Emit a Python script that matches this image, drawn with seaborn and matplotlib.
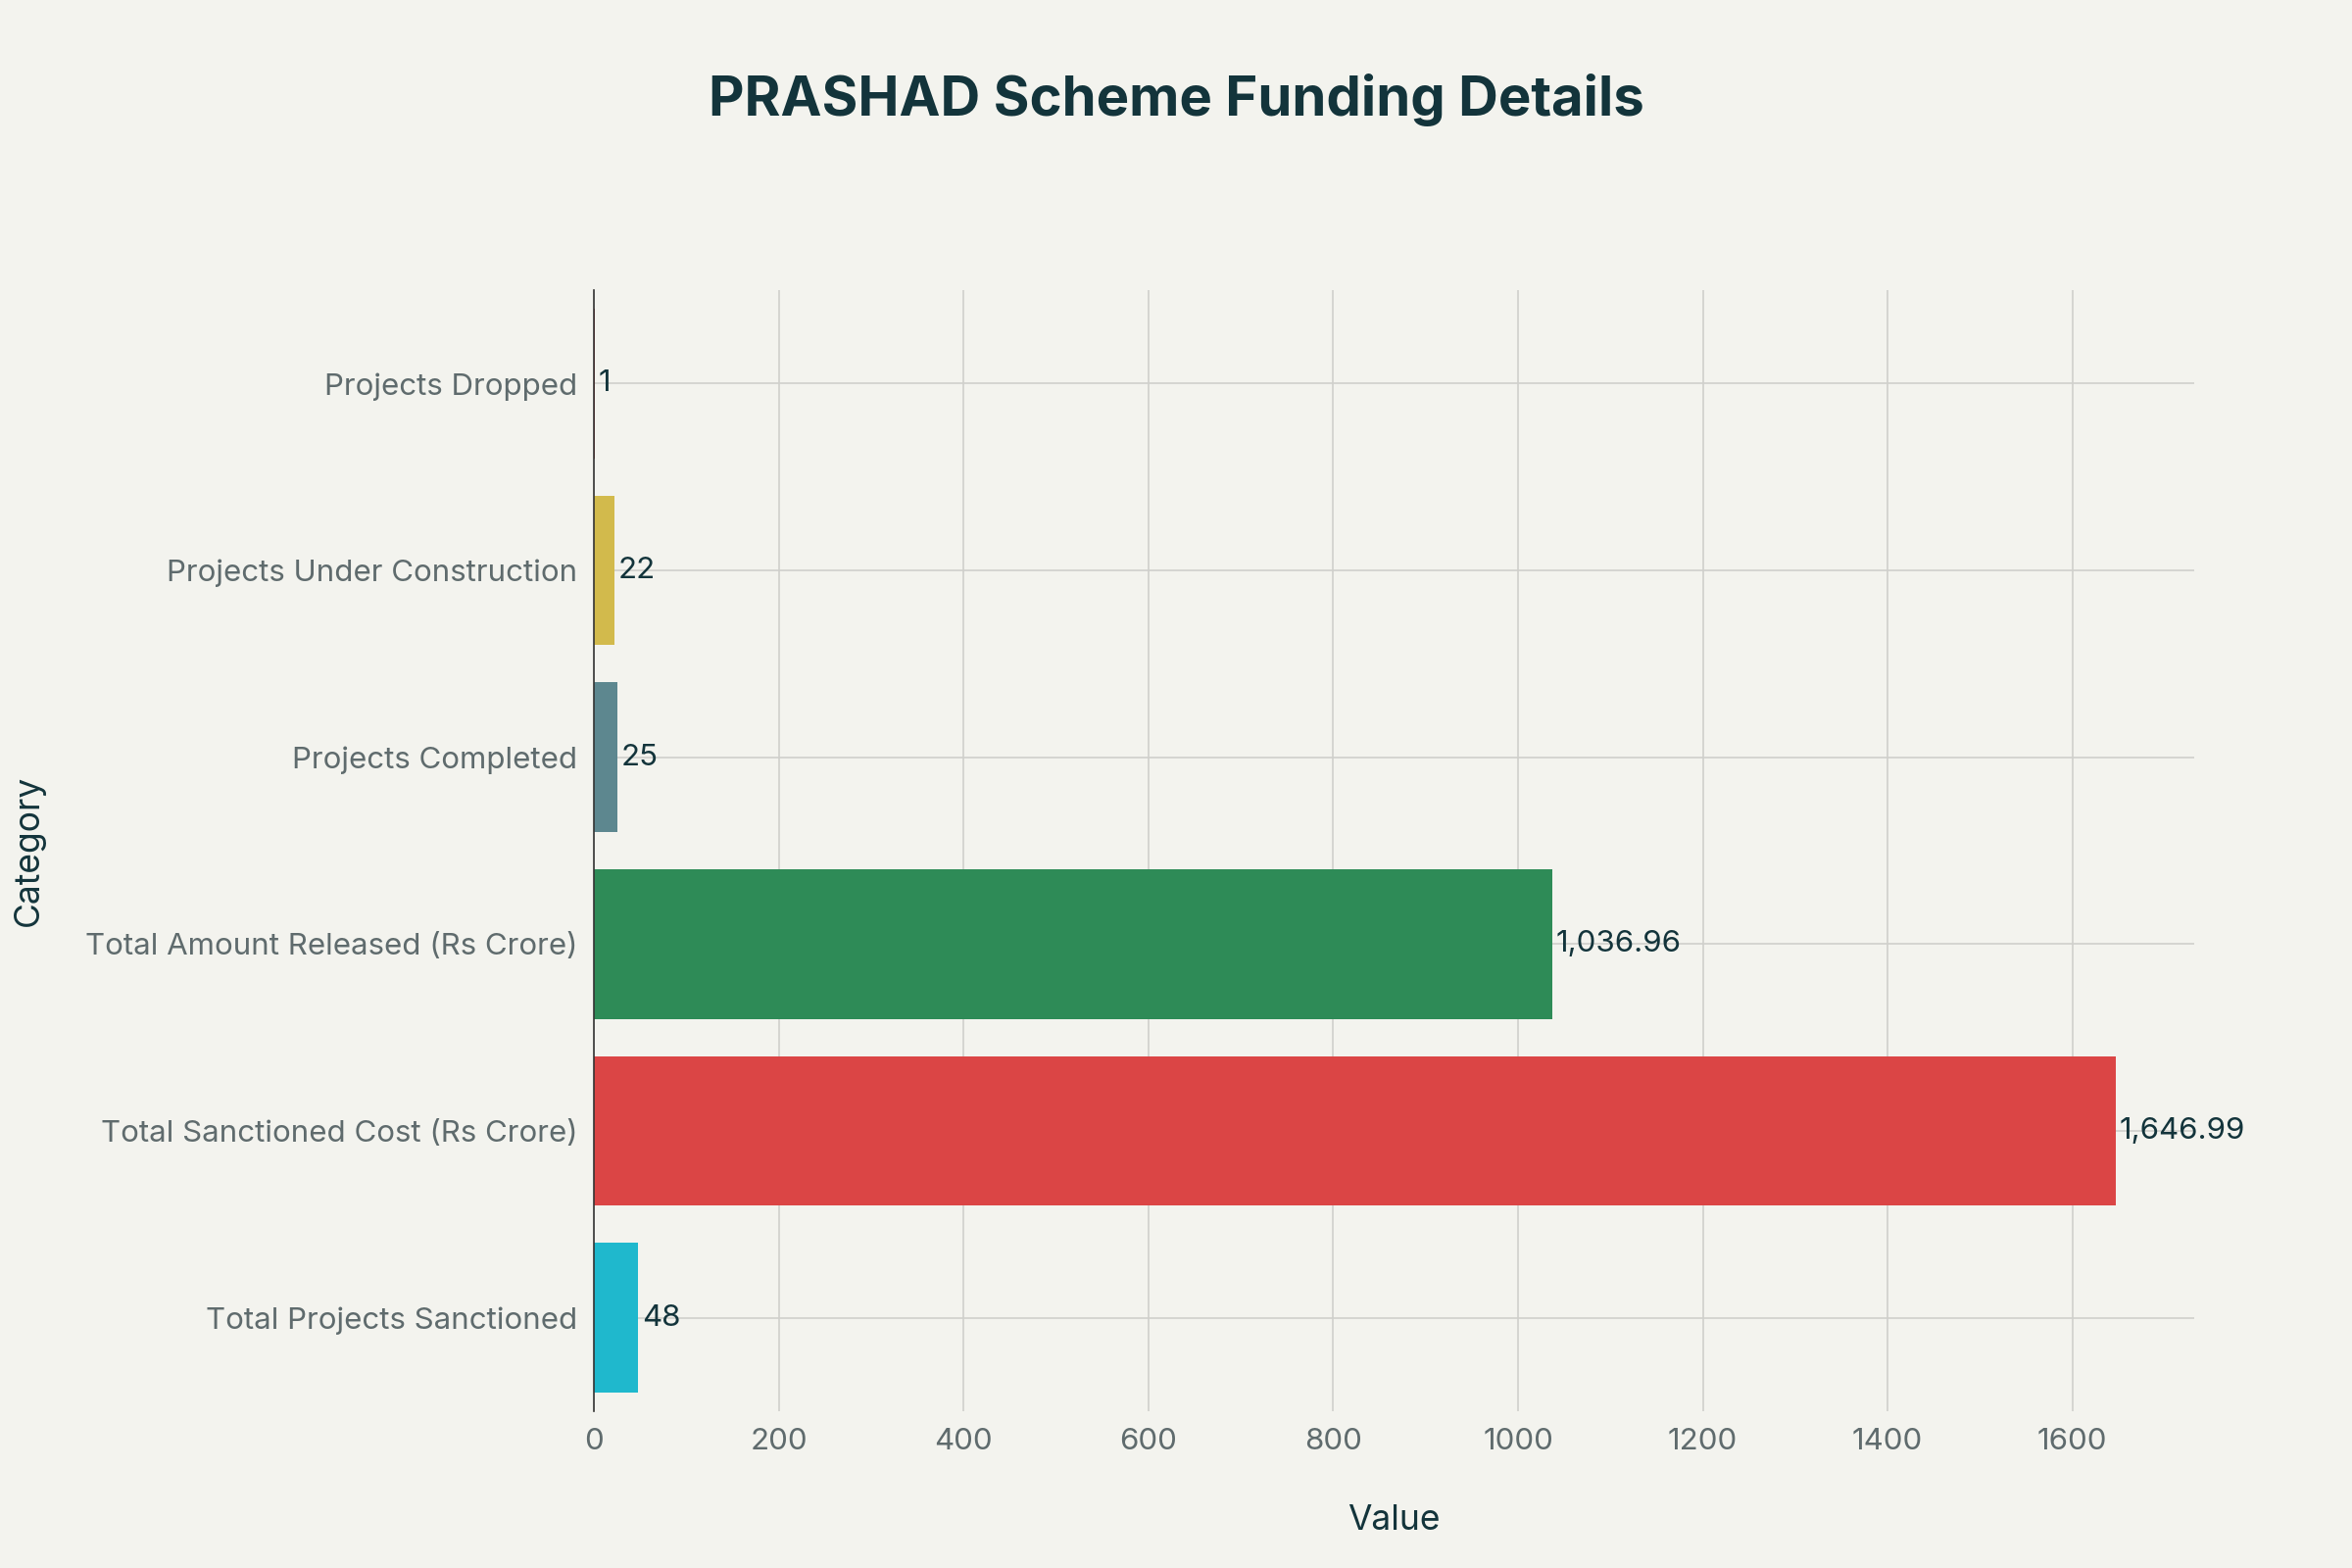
import matplotlib
matplotlib.use("Agg")
import matplotlib.pyplot as plt
import seaborn as sns
import pandas as pd

categories = ["Projects Dropped", "Projects Under Construction", "Projects Completed",
              "Total Amount Released (Rs Crore)", "Total Sanctioned Cost (Rs Crore)",
              "Total Projects Sanctioned"]
values = [1, 22, 25, 1036.96, 1646.99, 48]
labels = ["1", "22", "25", "1,036.96", "1,646.99", "48"]
colors = ["#A4282D", "#D2BA4C", "#5D878F", "#2E8B57", "#DB4545", "#1FB8CD"]

df = pd.DataFrame({"Category": categories, "Value": values})
bg = "#F3F3EE"
plt.rcParams["font.family"] = "Inter"
fig = plt.figure(figsize=(16, 10.6667), dpi=150, facecolor=bg)
ax = fig.add_axes([0.2526, 0.100, 0.6804, 0.715], facecolor=bg)
sns.barplot(data=df, x="Value", y="Category", hue="Category", palette=colors,
            order=categories, legend=False, width=0.8, ax=ax, saturation=1)
for i, (v, t) in enumerate(zip(values, labels)):
    ax.text(v + 4, i, t, va="center", ha="left", fontsize=15, color="#13343B")
ax.set_xlim(0, 1732)
ax.set_xticks(range(0, 1601, 200))
ax.grid(True, color="#D0D0CC", linewidth=0.8)
ax.set_axisbelow(True)
for s in ["top", "right", "bottom"]:
    ax.spines[s].set_visible(False)
ax.spines["left"].set_color("#333333")
ax.tick_params(length=0, labelsize=15, labelcolor="#5F6B6D", pad=8)
ax.set_xlabel("Value", fontsize=17, color="#13343B", labelpad=24)
ax.set_ylabel("Category", fontsize=17, color="#13343B", labelpad=20)
fig.suptitle("PRASHAD Scheme Funding Details", fontsize=27, fontweight="bold",
             color="#13343B", x=0.5, y=0.953)
fig.savefig("out.png", facecolor=bg)
